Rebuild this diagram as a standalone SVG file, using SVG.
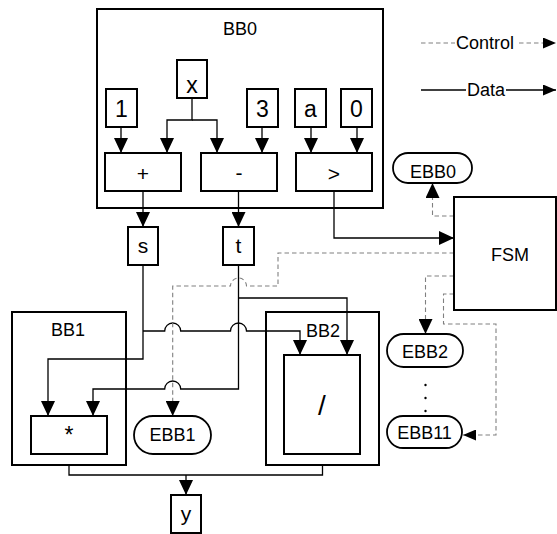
<svg xmlns="http://www.w3.org/2000/svg" width="557" height="534" viewBox="0 0 557 534">
<defs>
<style>
.box{fill:#fff;stroke:#000;stroke-width:2}
.pill{fill:#fff;stroke:#000;stroke-width:1.8}
.data{fill:none;stroke:#000;stroke-width:1.3}
.ctrl{fill:none;stroke:#808080;stroke-width:1.1;stroke-dasharray:4.5 3}
text{font-family:"Liberation Sans",Arial,sans-serif;fill:#000;text-anchor:middle}
.lbl{font-size:18px}
.val{font-size:23px}
.op{font-size:21px}
.leg{font-size:18px;text-anchor:start}
</style>
<marker id="ah" markerUnits="userSpaceOnUse" viewBox="0 0 15 14" refX="15" refY="7" markerWidth="15" markerHeight="14" orient="auto">
<path d="M0,0 L15,7 L0,14 z" fill="#000"/>
</marker>
<marker id="ahs" markerUnits="userSpaceOnUse" viewBox="0 0 13 11" refX="13" refY="5.5" markerWidth="13" markerHeight="11" orient="auto">
<path d="M0,0 L13,5.5 L0,11 z" fill="#000"/>
</marker>
</defs>

<g id="legend">
<path class="ctrl" d="M421,43 H455"/>
<text class="leg" x="456" y="49">Control</text>
<path class="ctrl" d="M519,43 H556" marker-end="url(#ahs)"/>
<path class="data" d="M421,90 H466"/>
<text class="leg" x="467" y="96">Data</text>
<path class="data" d="M506,90 H556" marker-end="url(#ahs)"/>
</g>

<g id="BB0">
<rect class="box" x="97" y="9" width="286" height="199"/>
<text class="lbl" x="240" y="35">BB0</text>
</g>
<g id="BB1">
<rect class="box" x="12" y="312" width="114" height="153"/>
<text class="lbl" x="68" y="336">BB1</text>
</g>
<g id="BB2">
<rect class="box" x="266" y="312" width="113" height="153"/>
<text class="lbl" x="323" y="337">BB2</text>
</g>

<g id="connectors">
<path class="data" d="M121,127 V153" marker-end="url(#ah)"/>
<path class="data" d="M192,98 V120 H167 V153" marker-end="url(#ah)"/>
<path class="data" d="M192,120 H217 V153" marker-end="url(#ah)"/>
<path class="data" d="M262,127 V153" marker-end="url(#ah)"/>
<path class="data" d="M311,127 V153" marker-end="url(#ah)"/>
<path class="data" d="M357,127 V153" marker-end="url(#ah)"/>
<path class="data" d="M143,191 V227" marker-end="url(#ah)"/>
<path class="data" d="M238.5,191 V227" marker-end="url(#ah)"/>
<path class="data" d="M334,191 V238 H454" marker-end="url(#ah)"/>
<path class="data" d="M143,265 V359 H48 V416" marker-end="url(#ah)"/>
<path class="data" d="M143,331 H164.7 A8,8 0 0 1 180.7,331 H230.5 A8,8 0 0 1 246.5,331 H300 V355" marker-end="url(#ah)"/>
<path class="data" d="M238.5,265 V389 H180.7 A8,8 0 0 0 164.7,389 H93 V416" marker-end="url(#ah)"/>
<path class="data" d="M238.5,298 H347 V355" marker-end="url(#ah)"/>
<path class="data" d="M69,465 V475 H322.5 V465"/>
<path class="data" d="M186,475 V495" marker-end="url(#ah)"/>
<path class="ctrl" d="M454,216 H432.5 V183" marker-end="url(#ah)"/>
<path class="ctrl" d="M454,253 H278 V286 H246.5 A8,8 0 0 0 230.5,286 H172.7 V416" marker-end="url(#ah)"/>
<path class="ctrl" d="M454,276 H425.5 V334" marker-end="url(#ah)"/>
<path class="ctrl" d="M454,294 H443.5 V324 H496 V435 H463" marker-end="url(#ahs)"/>
</g>

<g id="n1"><rect class="box" x="106" y="89" width="31" height="38"/><text class="val" x="121.5" y="117">1</text></g>
<g id="nx"><rect class="box" x="177" y="60" width="30" height="38"/><text class="val" x="192" y="93">x</text></g>
<g id="n3"><rect class="box" x="247" y="89" width="31" height="38"/><text class="val" x="262.5" y="117">3</text></g>
<g id="na"><rect class="box" x="295" y="89" width="31" height="38"/><text class="val" x="310.5" y="117">a</text></g>
<g id="n0"><rect class="box" x="341" y="89" width="31" height="38"/><text class="val" x="356.5" y="117">0</text></g>

<g id="plus"><rect class="box" x="105" y="153" width="76" height="38"/><text class="op" x="143" y="181">+</text></g>
<g id="minus"><rect class="box" x="201" y="153" width="76" height="38"/><text class="op" x="239" y="180">-</text></g>
<g id="gt"><rect class="box" x="296" y="153" width="76" height="38"/><text class="op" x="334" y="181">&gt;</text></g>

<g id="s"><rect class="box" x="128" y="227" width="30" height="38"/><text class="op" x="143" y="253">s</text></g>
<g id="t"><rect class="box" x="223" y="227" width="31" height="38"/><text class="op" x="238.5" y="253">t</text></g>

<g id="mul"><rect class="box" x="31" y="416" width="76" height="38"/><text class="op" x="69" y="443" style="font-size:23px">*</text></g>
<g id="div"><rect class="box" x="284" y="355" width="76" height="99"/><text x="322" y="415" style="font-size:28px">/</text></g>

<g id="y"><rect class="box" x="171" y="495" width="30" height="38"/><text class="op" x="186" y="521">y</text></g>

<g id="FSM"><rect class="box" x="454" y="197" width="102" height="113"/><text class="lbl" x="510" y="261">FSM</text></g>

<g id="EBB0"><rect class="pill" x="393" y="153" width="79" height="30" rx="15"/><text class="lbl" x="433" y="178">EBB0</text></g>
<g id="EBB1"><rect class="pill" x="134" y="416" width="77" height="38" rx="19"/><text class="lbl" x="172.5" y="441">EBB1</text></g>
<g id="EBB2"><rect class="pill" x="387" y="334" width="76" height="33" rx="16.5"/><text class="lbl" x="425" y="358">EBB2</text></g>
<g id="EBB11"><rect class="pill" x="387" y="416" width="75" height="32" rx="16"/><text class="lbl" x="424.5" y="439">EBB11</text></g>

<g id="dots">
<circle cx="425.5" cy="385" r="1.2" fill="#000"/>
<circle cx="425.5" cy="398" r="1.2" fill="#000"/>
<circle cx="425.5" cy="411" r="1.2" fill="#000"/>
</g>
</svg>
